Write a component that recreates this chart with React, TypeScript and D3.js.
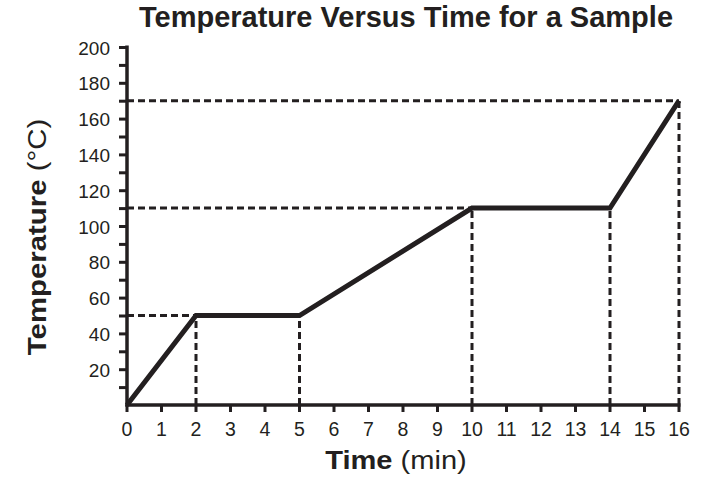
import React, { useEffect, useRef } from 'react';
import * as d3 from 'd3';

const times = [0, 2, 5, 10, 14, 16];
const temps = [0, 50, 50, 110, 110, 170];
const xTicks = d3.range(0, 17);
const yLabelTicks = [20, 40, 60, 80, 100, 120, 140, 160, 180, 200];
const yMinorTicks = d3.range(10, 201, 10);
// guide lines: horizontal ones reach from the axis to the point
const hGuides = [
  { t: 2, v: 50 },
  { t: 10, v: 110 },
  { t: 16, v: 170 },
];
const vGuides = [
  { t: 2, v: 50 },
  { t: 5, v: 50 },
  { t: 10, v: 110 },
  { t: 14, v: 110 },
  { t: 16, v: 170 },
];

const W = 717;
const H = 486;
const INK = '#231f20';

const App: React.FC = () => {
  const ref = useRef<SVGSVGElement | null>(null);

  useEffect(() => {
    if (!ref.current) return;
    const svg = d3.select(ref.current);
    svg.selectAll('*').remove();

    const x = d3.scaleLinear().domain([0, 16]).range([127, 679]);
    const y = d3.scaleLinear().domain([0, 200]).range([405, 47]);
    const font = '"Liberation Sans", Arial, sans-serif';

    // Dashed guides
    const dash = svg.append('g')
      .attr('stroke', INK)
      .attr('stroke-width', 3)
      .attr('stroke-dasharray', '7,4')
      .attr('fill', 'none');
    dash.selectAll('line.h')
      .data(hGuides)
      .enter()
      .append('line')
      .attr('class', 'h')
      .attr('x1', x(0))
      .attr('x2', d => x(d.t))
      .attr('y1', d => y(d.v))
      .attr('y2', d => y(d.v));
    dash.selectAll('line.v')
      .data(vGuides)
      .enter()
      .append('line')
      .attr('class', 'v')
      .attr('x1', d => x(d.t))
      .attr('x2', d => x(d.t))
      .attr('y1', y(0))
      .attr('y2', d => y(d.v));

    // Axes
    const yAxis = d3.axisLeft(y)
      .tickValues(yMinorTicks)
      .tickSize(8)
      .tickFormat(() => '');
    const gy = svg.append('g').attr('transform', `translate(${x(0)},0)`).call(yAxis);
    gy.select('.domain').remove();
    gy.selectAll('line').attr('stroke', INK).attr('stroke-width', 3);
    gy.selectAll('text').remove();

    svg.append('line')
      .attr('x1', x(0)).attr('x2', x(0))
      .attr('y1', y(200) - 1.5).attr('y2', y(0) + 1.5)
      .attr('stroke', INK).attr('stroke-width', 3.5);

    svg.append('line')
      .attr('x1', x(0) - 1.5).attr('x2', x(16) + 1.5)
      .attr('y1', y(0)).attr('y2', y(0))
      .attr('stroke', INK).attr('stroke-width', 3.5);

    svg.append('g')
      .selectAll('line')
      .data(xTicks)
      .enter()
      .append('line')
      .attr('x1', d => x(d))
      .attr('x2', d => x(d))
      .attr('y1', y(0))
      .attr('y2', y(0) + 7)
      .attr('stroke', INK)
      .attr('stroke-width', 3);

    svg.append('g')
      .selectAll('text')
      .data(xTicks)
      .enter()
      .append('text')
      .attr('x', d => x(d))
      .attr('y', 436)
      .attr('text-anchor', 'middle')
      .attr('font-family', font)
      .attr('font-size', 19.5)
      .attr('fill', INK)
      .text(d => d);

    svg.append('g')
      .selectAll('text')
      .data(yLabelTicks)
      .enter()
      .append('text')
      .attr('x', 110)
      .attr('y', d => y(d) + 7.5)
      .attr('text-anchor', 'end')
      .attr('font-family', font)
      .attr('font-size', 19)
      .attr('fill', INK)
      .text(d => d);

    // Data line
    const pts = times.map((t, i) => [t, temps[i]] as [number, number]);
    const line = d3.line<[number, number]>()
      .x(d => x(d[0]))
      .y(d => y(d[1]));
    svg.append('path')
      .datum(pts)
      .attr('fill', 'none')
      .attr('stroke', INK)
      .attr('stroke-width', 5)
      .attr('stroke-linejoin', 'miter')
      .attr('d', line);

    // Titles
    svg.append('text')
      .attr('x', 406)
      .attr('y', 26.5)
      .attr('text-anchor', 'middle')
      .attr('font-family', font)
      .attr('font-weight', 'bold')
      .attr('font-size', 29)
      .attr('fill', INK)
      .text('Temperature Versus Time for a Sample');

    const xl = svg.append('text')
      .attr('transform', 'translate(396,469) scale(1.14,1)')
      .attr('text-anchor', 'middle')
      .attr('font-family', font)
      .attr('font-size', 25.5)
      .attr('fill', INK);
    xl.append('tspan').attr('font-weight', 'bold').text('Time');
    xl.append('tspan').text(' (min)');

    const yl = svg.append('text')
      .attr('transform', 'translate(45.5,237) rotate(-90) scale(1.13,1)')
      .attr('text-anchor', 'middle')
      .attr('font-family', font)
      .attr('font-size', 26)
      .attr('fill', INK);
    yl.append('tspan').attr('font-weight', 'bold').text('Temperature');
    yl.append('tspan').text(' (°C)');
  }, []);

  return (
    <svg
      ref={ref}
      width={W}
      height={H}
      style={{ position: 'absolute', left: 0, top: 0, background: '#fff' }}
    />
  );
};

export default App;
